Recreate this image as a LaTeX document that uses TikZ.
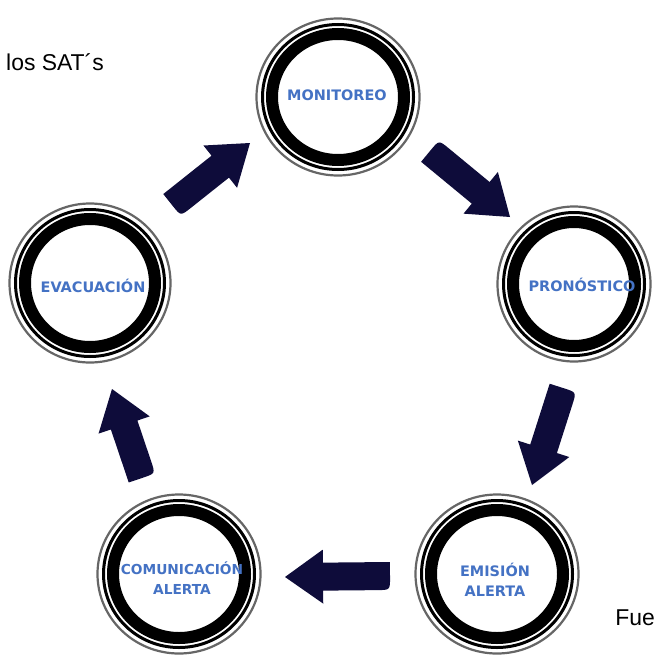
\documentclass[tikz,border=0pt]{standalone}
\usepackage{fontspec}
\setmainfont{Liberation Sans}
\newfontfamily\lblfont{DejaVu Sans}
\usetikzlibrary{calc}
\definecolor{lblblue}{RGB}{68,114,196}
\definecolor{navyarrow}{RGB}{14,12,58}
\begin{document}
\begin{tikzpicture}[x=1bp,y=-1bp,
  lbl/.style={font=\lblfont\bfseries\fontsize{14.5}{20}\selectfont, text=lblblue, align=center, inner sep=0pt},
  lblsmall/.style={lbl, font=\lblfont\bfseries\fontsize{13.8}{20}\selectfont},
  thickring/.style={line width=12bp, black},
  thinring/.style={line width=3bp, black},
  outerring/.style={line width=2.2bp, black!60},
  plain/.style={inner sep=0pt, font=\fontsize{23}{27}\selectfont}]
\useasboundingbox (0,0) rectangle (656,656);
\fill[white] (0,0) rectangle (656,656);

% rings
\foreach \n/\x/\y/\rx/\ry in {mon/338/97/83/80, pro/574/284/78/79, eva/90/283/82/81, com/179/574/83/81, emi/497/574/83/81} {
  \coordinate (c\n) at (\x,\y);
  \pgfmathsetmacro\rAx{\rx-17}\pgfmathsetmacro\rAy{\ry-17}
  \pgfmathsetmacro\rBx{\rx-7.5}\pgfmathsetmacro\rBy{\ry-7.5}
  \pgfmathsetmacro\rCx{\rx-1.5}\pgfmathsetmacro\rCy{\ry-1.5}
  \draw[thickring] (c\n) ellipse [x radius=\rAx bp, y radius=\rAy bp];
  \draw[thinring] (c\n) ellipse [x radius=\rBx bp, y radius=\rBy bp];
  \draw[outerring] (c\n) ellipse [x radius=\rCx bp, y radius=\rCy bp];
}

% labels
\node[lbl] (mon) at (337,95) {MONITOREO};
\node[lbl] (pro) at (582,285) {PRONÓSTICO};
\node[lbl] (eva) at (93,286) {EVACUACIÓN};
\node[lblsmall] (com) at (182,578) {COMUNICACIÓN\\ALERTA};
\node[lbl] (emi) at (495,580) {EMISIÓN\\ALERTA};

% block arrows
\foreach \i/\tx/\ty/\hx/\hy/\s/\o in {1/172/205/250/143/-90/90, 2/430/151/510/217/90/-90, 3/563/388/532/485/90/-90, 4/390/576/285/577/90/-90, 5/142/478/112/389/-90/90} {
  \coordinate (t\i) at (\tx,\ty);
  \coordinate (h\i) at (\hx,\hy);
  \coordinate (b\i) at ($(h\i)!38bp!(t\i)$);
  \coordinate (pa\i) at ($(b\i)!14bp!\o:(h\i)$);
  \coordinate (pb\i) at ($(t\i)!14bp!\o:(h\i)$);
  \coordinate (r\i) at ($(t\i)!14bp!\s:(h\i)$);
  \coordinate (pd\i) at ($(b\i)!14bp!\s:(h\i)$);
  \coordinate (pe\i) at ($(b\i)!27bp!\s:(h\i)$);
  \coordinate (pf\i) at ($(b\i)!27bp!\o:(h\i)$);
  \coordinate (ra\i) at ($(r\i)!13bp!(pb\i)$);
  \coordinate (rb\i) at ($(r\i)!13bp!(pd\i)$);
  \fill[navyarrow] (pa\i) -- (pb\i) -- (ra\i) .. controls (r\i) .. (rb\i) -- (pd\i) -- (pe\i) -- (h\i) -- (pf\i) -- cycle;
}

% texts
\node[plain, anchor=base west] (title) at (6,71) {los SAT´s};
\node[plain, anchor=base east] (src) at (655,625) {Fue};
\end{tikzpicture}
\end{document}
